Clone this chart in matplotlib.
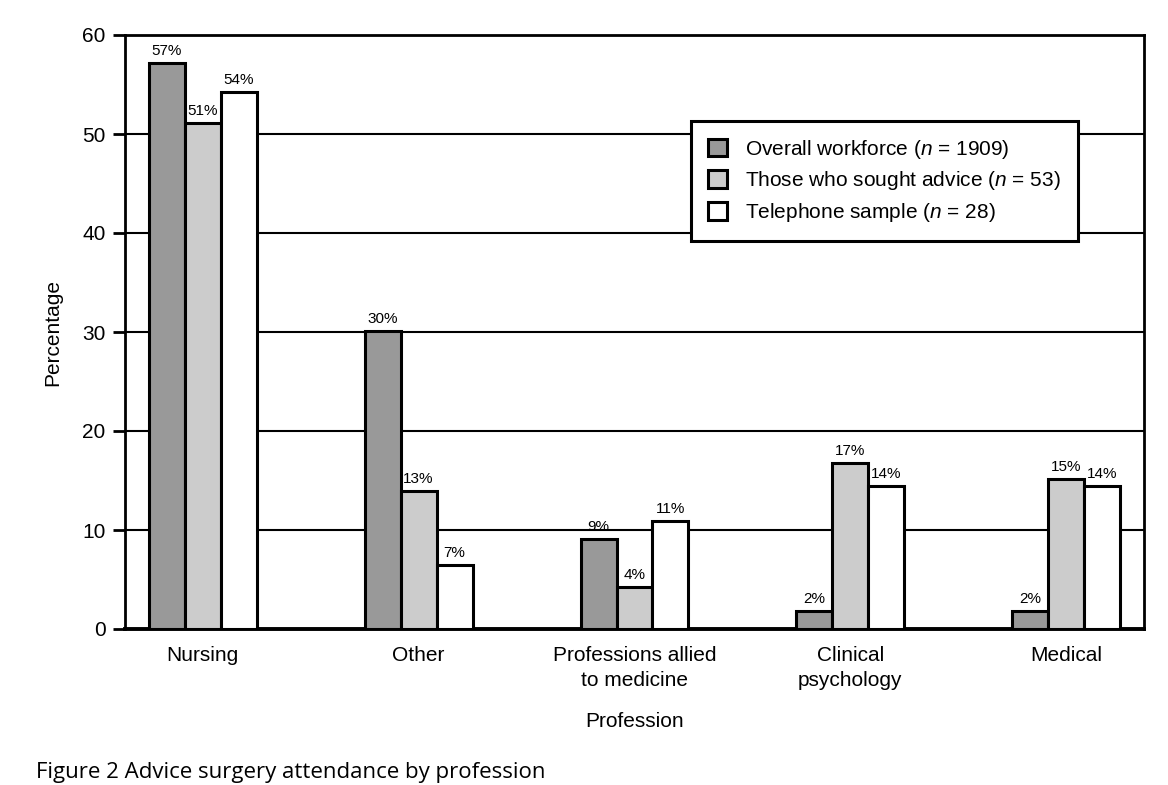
import matplotlib
matplotlib.use("Agg")
import matplotlib.pyplot as plt
import numpy as np

categories = ["Nursing", "Other", "Professions allied\nto medicine", "Clinical\npsychology", "Medical"]
series_names = [r"Overall workforce ($\it{n}$ = 1909)",
                r"Those who sought advice ($\it{n}$ = 53)",
                r"Telephone sample ($\it{n}$ = 28)"]
overall = [57.2, 30.1, 9.1, 1.8, 1.8]
sought = [51.1, 13.9, 4.2, 16.8, 15.2]
telephone = [54.2, 6.5, 10.9, 14.4, 14.4]
labels_overall = ["57%", "30%", "9%", "2%", "2%"]
labels_sought = ["51%", "13%", "4%", "17%", "15%"]
labels_telephone = ["54%", "7%", "11%", "14%", "14%"]
yticks = [0, 10, 20, 30, 40, 50, 60]

plt.rcParams['font.family'] = ['Liberation Sans', 'DejaVu Sans']
plt.rcParams['mathtext.fontset'] = 'custom'
plt.rcParams['mathtext.rm'] = 'Liberation Sans'
plt.rcParams['mathtext.it'] = 'Liberation Sans:italic'

fig = plt.figure(figsize=(11.68, 7.85), dpi=100)
ax = fig.add_axes([125/1168, 1-629/785, (1144-125)/1168, (629-35)/785])

x = np.arange(len(categories))
w = 0.1667
colors = ["#999999", "#cccccc", "#ffffff"]
data = [overall, sought, telephone]
labs = [labels_overall, labels_sought, labels_telephone]
for i, (vals, col, name, lb) in enumerate(zip(data, colors, series_names, labs)):
    bars = ax.bar(x + (i - 1) * w, vals, w, color=col, edgecolor="black", linewidth=2.2,
                  label=name, zorder=3)
    for b, t in zip(bars, lb):
        ax.text(b.get_x() + b.get_width() / 2, b.get_height() + 0.5, t,
                ha="center", va="bottom", fontsize=11, zorder=4)

ax.set_ylim(0, 60)
ax.set_xlim(-0.36, 4.36)
ax.set_yticks(yticks)
ax.set_yticklabels([str(v) for v in yticks], fontsize=15)
ax.set_xticks(x)
ax.set_xticklabels(categories, fontsize=15, linespacing=1.4)
ax.tick_params(axis="x", length=0, pad=12)
ax.tick_params(axis="y", length=9, width=2, direction="out", pad=5)
ax.yaxis.grid(True, color="black", linewidth=1.5, zorder=0)
ax.set_axisbelow(True)
for s in ax.spines.values():
    s.set_linewidth(2)
ax.spines["bottom"].set_linewidth(2.8)
ax.set_ylabel("Percentage", fontsize=15, labelpad=14)
ax.set_xlabel("Profession", fontsize=15, labelpad=16)

leg = ax.legend(loc="upper left", bbox_to_anchor=((691-125)/1019, (629-121)/594),
                fontsize=15, frameon=True, fancybox=False, edgecolor="black",
                framealpha=1, handlelength=0.95, handleheight=0.95, borderpad=0.8,
                labelspacing=0.42, handletextpad=0.85, borderaxespad=0)
leg.get_frame().set_linewidth(2.2)
leg.set_zorder(5)

fig.text(36/1168, 1-778/785, "Figure 2 Advice surgery attendance by profession",
         fontsize=16, family=["Open Sans", "DejaVu Sans"], ha="left", va="baseline")

fig.savefig("out.png", dpi=100)
